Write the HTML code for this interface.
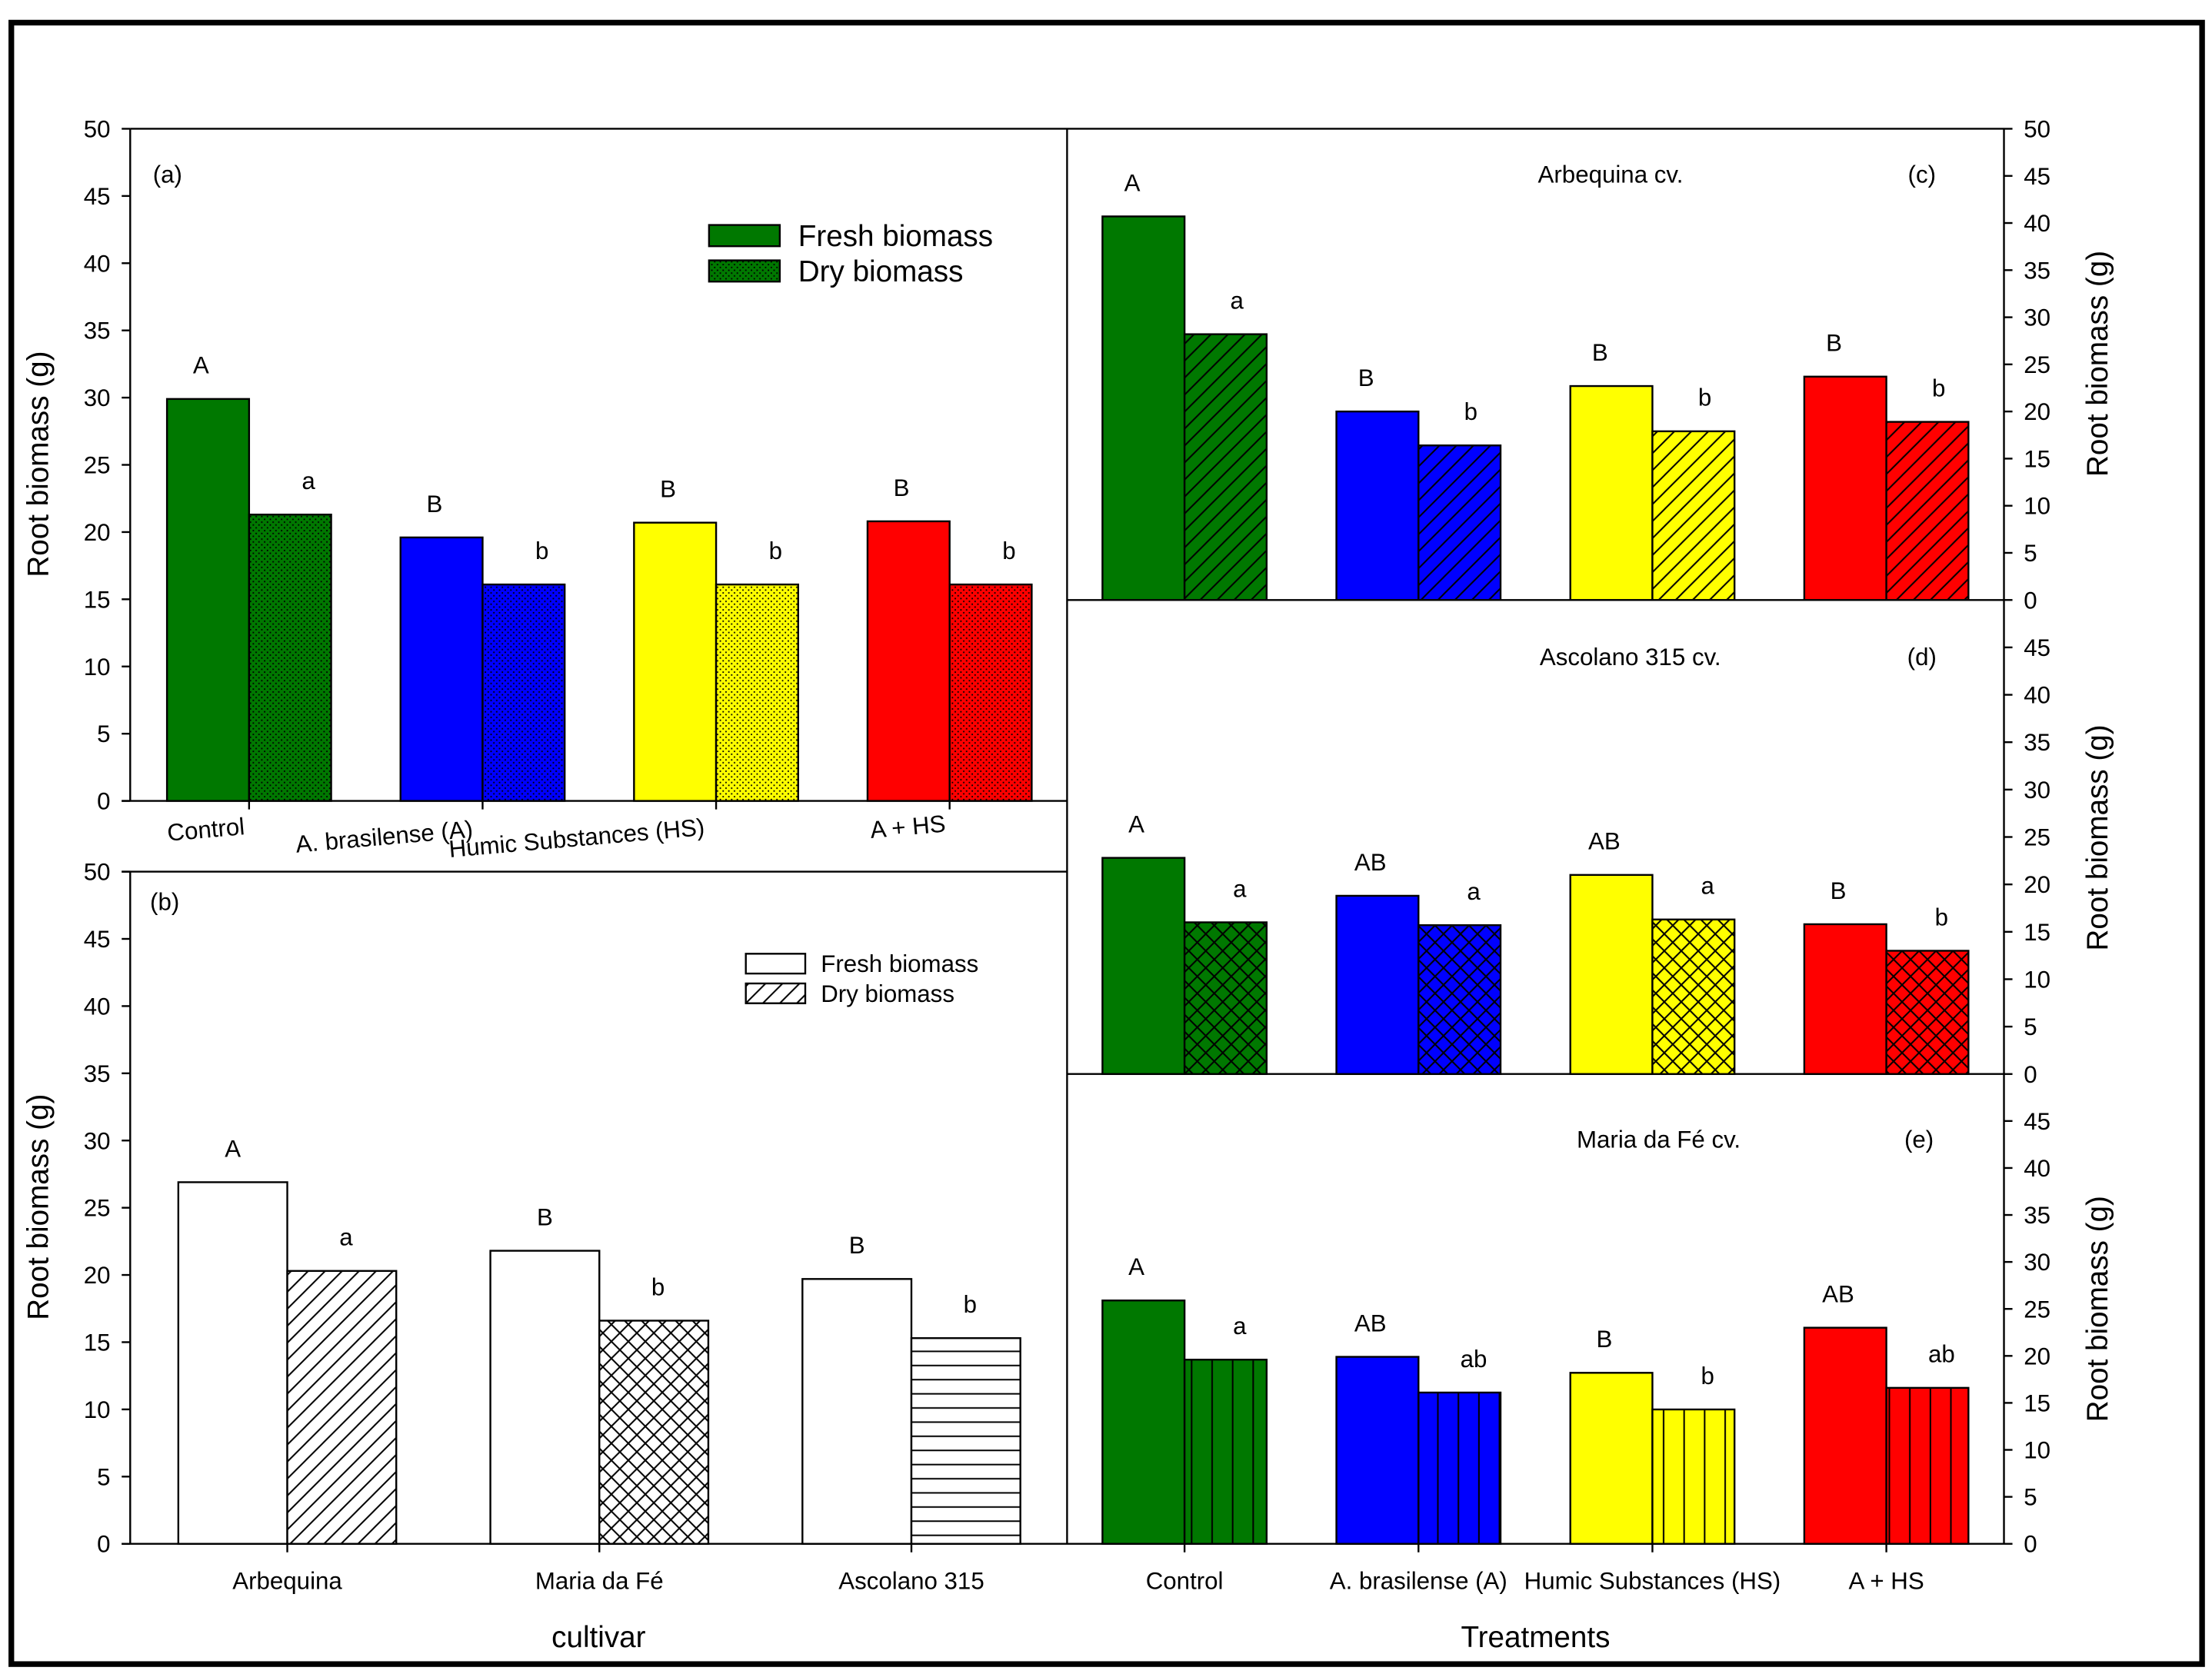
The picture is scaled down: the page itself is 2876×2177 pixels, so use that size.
<!DOCTYPE html>
<html><head><meta charset="utf-8"><style>
html,body{margin:0;padding:0;background:#fff;}
svg{display:block;font-family:"Liberation Sans",Arial,sans-serif;}
</style></head><body>
<svg id="chart" width="2876" height="2177" viewBox="0 0 1563 1183" preserveAspectRatio="none" xmlns="http://www.w3.org/2000/svg">
<defs id="defs"></defs>
</svg>
<script>
// ---- data ----
const treatments = ["Control", "A. brasilense (A)", "Humic Substances (HS)", "A + HS"];
const cultivars = ["Arbequina", "Maria da Fé", "Ascolano 315"];
const colors = ["#007800", "#0000ff", "#ffff00", "#ff0000"];
const freshA = [29.9, 19.6, 20.7, 20.8];
const dryA = [21.3, 16.1, 16.1, 16.1];
const freshLettersA = ["A", "B", "B", "B"];
const dryLettersA = ["a", "b", "b", "b"];
const freshB = [26.9, 21.8, 19.7];
const dryB = [20.3, 16.6, 15.3];
const freshLettersB = ["A", "B", "B"];
const dryLettersB = ["a", "b", "b"];
const freshC = [40.7, 20.0, 22.7, 23.7];
const dryC = [28.2, 16.4, 17.9, 18.9];
const freshLettersC = ["A", "B", "B", "B"];
const dryLettersC = ["a", "b", "b", "b"];
const freshD = [22.8, 18.8, 21.0, 15.8];
const dryD = [16.0, 15.7, 16.3, 13.0];
const freshLettersD = ["A", "AB", "AB", "B"];
const dryLettersD = ["a", "a", "a", "b"];
const freshE = [25.9, 19.9, 18.2, 23.0];
const dryE = [19.6, 16.1, 14.3, 16.6];
const freshLettersE = ["A", "AB", "B", "AB"];
const dryLettersE = ["a", "ab", "b", "ab"];
const ticksFull = [0, 5, 10, 15, 20, 25, 30, 35, 40, 45, 50];
const ticksShort = [0, 5, 10, 15, 20, 25, 30, 35, 40, 45];

const NS = "http://www.w3.org/2000/svg";
const svg = document.getElementById("chart");
const defs = document.getElementById("defs");
function mk(tag, attrs, parent) {
  const e = document.createElementNS(NS, tag);
  for (const k in attrs) e.setAttribute(k, attrs[k]);
  (parent || svg).appendChild(e);
  return e;
}

// patterns
function pattern(id, color, kind) {
  const p = mk("pattern", {id: id, patternUnits: "userSpaceOnUse", width: kind === "dots" ? 4 : (kind === "vlines" ? 14.5 : (kind === "hlines" ? 10 : 12)), height: kind === "dots" ? 4 : (kind === "vlines" ? 20 : (kind === "hlines" ? 10 : 12))}, defs);
  const w = +p.getAttribute("width"), h = +p.getAttribute("height");
  mk("rect", {x: 0, y: 0, width: w, height: h, fill: color}, p);
  const st = {stroke: "#000", "stroke-width": 1.1, fill: "none"};
  if (kind === "dots") { mk("rect", {x: 0.5, y: 0.5, width: 1, height: 1, fill: "#000"}, p); mk("rect", {x: 2.5, y: 2.5, width: 1, height: 1, fill: "#000"}, p); }
  if (kind === "diag") { mk("path", Object.assign({d: "M0,12 L12,0 M-3,3 L3,-3 M9,15 L15,9"}, st), p); }
  if (kind === "cross") { mk("path", Object.assign({d: "M0,12 L12,0 M-3,3 L3,-3 M9,15 L15,9 M0,0 L12,12 M-3,9 L3,15 M9,-3 L15,3"}, st), p); }
  if (kind === "vlines") { mk("path", Object.assign({d: "M1,0 L1,20"}, st), p); }
  if (kind === "hlines") { mk("path", Object.assign({d: "M0,5 L10,5"}, st), p); }
}
colors.forEach((c, i) => { pattern("dots" + i, c, "dots"); pattern("diag" + i, c, "diag"); pattern("cross" + i, c, "cross"); pattern("vl" + i, c, "vlines"); });
pattern("bdiag", "#fff", "diag"); pattern("bcross", "#fff", "cross"); pattern("bh", "#fff", "hlines");

function text(str, x, y, size, anchor, extra) {
  const t = mk("text", Object.assign({x: x, y: y, "font-size": size, "text-anchor": anchor || "middle", fill: "#000"}, extra || {}));
  t.textContent = str;
  return t;
}
function line(x1, y1, x2, y2, w) { return mk("line", {x1: x1, y1: y1, x2: x2, y2: y2, stroke: "#000", "stroke-width": w || 1.3}); }

// outer border
const border = mk("rect", {x: 8, y: 16, width: 1548, height: 1160, fill: "none", stroke: "#000", "stroke-width": 4});



// scales
const yA = v => 566 - v * 9.5;
const yB = v => 1091 - v * 9.5;
const yC = v => 424 - v * 6.66;
const yD = v => 759 - v * 6.7;
const yE = v => 1091 - v * 6.64;
const xA = i => 176 + i * 165;
const xB = i => 203 + i * 220.5;
const xR = i => 837 + i * 165.3;

function bars(panel, cats, fresh, dry, fl, dl, xs, ys, w, freshFill, dryFill, fOff, dOff) {
  cats.forEach((c, i) => {
    const cx = xs(i);
    const f = mk("rect", {x: cx - w, y: ys(fresh[i]), width: w, height: ys(0) - ys(fresh[i]), fill: freshFill(i), stroke: "#000", "stroke-width": 1.3});
    
    
    const d = mk("rect", {x: cx, y: ys(dry[i]), width: w, height: ys(0) - ys(dry[i]), fill: dryFill(i), stroke: "#000", "stroke-width": 1.3});
    
    
    const lf = text(fl[i], cx - w / 2 + fOff, ys(fresh[i]) - 18, 17);
    
    
    const ld = text(dl[i], cx + w / 2 + dOff, ys(dry[i]) - 18, 17);
    
    
  });
}
function leftTicks(ys, ticks, x) {
  ticks.forEach(v => { line(x - 6, ys(v), x, ys(v)); const t = text(String(v), x - 14, ys(v) + 6, 17, "end");   });
}
function rightTicks(ys, ticks, x) {
  ticks.forEach(v => { line(x, ys(v), x + 6, ys(v)); const t = text(String(v), x + 14, ys(v) + 6, 17, "start");   });
}

// frame lines
line(92, 91, 1416, 91);
line(92, 91, 92, 566); line(86, 566, 754, 566);
line(92, 616, 92, 1091); line(86, 616, 754, 616);
line(86, 1091, 1416, 1091);
line(754, 91, 754, 1091);
line(754, 424, 1416, 424); line(754, 759, 1416, 759);
line(1416, 91, 1416, 1091);

// panel a
bars("panel-a", treatments, freshA, dryA, freshLettersA, dryLettersA, xA, yA, 58, i => colors[i], i => "url(#dots" + i + ")", -5, 13);
leftTicks(yA, ticksFull, 92);
treatments.forEach((c, i) => line(xA(i), 566, xA(i), 572));
const aLabX = [146, 272, 408, 642], aLabY = [592, 597, 598, 590];
treatments.forEach((c, i) => { const t = text(c, aLabX[i], aLabY[i], 17, "middle", {transform: "rotate(-5 " + aLabX[i] + " " + aLabY[i] + ")"});   });
text("(a)", 108, 129, 17, "start");
const yt1 = text("Root biomass (g)", 0, 0, 21, "middle", {transform: "translate(34 328) rotate(-90)"});
 
mk("rect", {x: 501, y: 159, width: 50, height: 15, fill: colors[0], stroke: "#000", "stroke-width": 1.3});
mk("rect", {x: 501, y: 184, width: 50, height: 15, fill: "url(#dots0)", stroke: "#000", "stroke-width": 1.3});
const lg1 = text("Fresh biomass", 564, 174, 21, "start");  
const lg2 = text("Dry biomass", 564, 199, 21, "start");  

// panel b
const bDry = ["url(#bdiag)", "url(#bcross)", "url(#bh)"];
bars("panel-b", cultivars, freshB, dryB, freshLettersB, dryLettersB, xB, yB, 77, i => "#fff", i => bDry[i], 0, 3);
leftTicks(yB, ticksFull, 92);
cultivars.forEach((c, i) => { line(xB(i), 1091, xB(i), 1097); const t = text(c, xB(i), 1123, 17);   });
text("(b)", 106, 643, 17, "start");
const yt2 = text("Root biomass (g)", 0, 0, 21, "middle", {transform: "translate(34 853) rotate(-90)"});
 
mk("rect", {x: 527, y: 674, width: 42, height: 14, fill: "#fff", stroke: "#000", "stroke-width": 1.3});
mk("rect", {x: 527, y: 695, width: 42, height: 14, fill: "url(#bdiag)", stroke: "#000", "stroke-width": 1.3});
text("Fresh biomass", 580, 687, 17, "start");
text("Dry biomass", 580, 708, 17, "start");
const xt1 = text("cultivar", 423, 1164, 21);  

// panels c, d, e
bars("panel-c", treatments, freshC, dryC, freshLettersC, dryLettersC, xR, yC, 58, i => colors[i], i => "url(#diag" + i + ")", -8, 8);
rightTicks(yC, ticksFull, 1416);
text("Arbequina cv.", 1138, 129, 17); text("(c)", 1358, 129, 17);
bars("panel-d", treatments, freshD, dryD, freshLettersD, dryLettersD, xR, yD, 58, i => colors[i], i => "url(#cross" + i + ")", -5, 10);
rightTicks(yD, ticksShort, 1416);
text("Ascolano 315 cv.", 1152, 470, 17); text("(d)", 1358, 470, 17);
bars("panel-e", treatments, freshE, dryE, freshLettersE, dryLettersE, xR, yE, 58, i => colors[i], i => "url(#vl" + i + ")", -5, 10);
rightTicks(yE, ticksShort, 1416);
text("Maria da Fé cv.", 1172, 811, 17); text("(e)", 1356, 811, 17);
treatments.forEach((c, i) => { line(xR(i), 1091, xR(i), 1097); const t = text(c, xR(i), 1123, 17);   });
[257, 592, 925].forEach((cy, k) => { const t = text("Root biomass (g)", 0, 0, 21, "middle", {transform: "translate(1489 " + cy + ") rotate(-90)"});   });
const xt2 = text("Treatments", 1085, 1164, 21);  
</script>
</body></html>
